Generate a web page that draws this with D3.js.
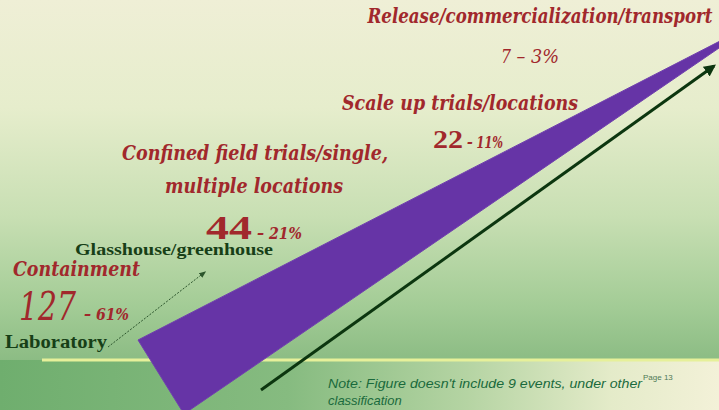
<!DOCTYPE html>
<html><head><meta charset="utf-8">
<script src="https://cdn.jsdelivr.net/npm/d3@7"></script>
<style>html,body{margin:0;padding:0;overflow:hidden;background:#eeeed4}</style>
</head><body>
<svg id="c" width="719" height="410"></svg>
<script>
// ---- data ----
const stages = ["Containment", "Confined field trials/single, multiple locations", "Scale up trials/locations", "Release/commercialization/transport"];
const counts = [127, 44, 22, 7];
const percents = [61, 21, 11, 3];
const subStages = ["Laboratory", "Glasshouse/greenhouse"];
const note = ["Note: Figure doesn't include 9 events, under other", "classification"];
const pageLabel = "Page 13";

const W = 719, H = 410;
const svg = d3.select("#c");
const defs = svg.append("defs");

// background gradients
const g1 = defs.append("linearGradient").attr("id","bgTop").attr("x1",0).attr("y1",0).attr("x2",0).attr("y2",1);
[[0,"#efefd6"],[0.3,"#e6edcc"],[0.6,"#c8dfb3"],[0.85,"#a3cc96"],[1,"#8cbc84"]].forEach(s=>g1.append("stop").attr("offset",s[0]).attr("stop-color",s[1]));
const g2 = defs.append("linearGradient").attr("id","bgBot").attr("x1",0).attr("y1",0).attr("x2",1).attr("y2",0);
[[0,"#6fae6e"],[0.4,"#86bb80"],[0.65,"#b5d4a3"],[0.85,"#e4ebc9"],[1,"#f3f1d8"]].forEach(s=>g2.append("stop").attr("offset",s[0]).attr("stop-color",s[1]));

const lineY = 360;
svg.append("rect").attr("x",0).attr("y",0).attr("width",W).attr("height",lineY).attr("fill","url(#bgTop)");
svg.append("rect").attr("x",0).attr("y",lineY).attr("width",W).attr("height",H-lineY).attr("fill","url(#bgBot)");
svg.append("line").attr("x1",42).attr("x2",W).attr("y1",lineY).attr("y2",lineY).attr("stroke","#e6f09a").attr("stroke-width",3);

// scales along the wedge
const xS = d3.scaleLinear().domain([0,1]).range([138,722]);
const yTop = d3.scaleLinear().domain([0,1]).range([340,40]);
const line = d3.line();

// wedge (purple)
const wedge = [[xS(0), yTop(0)], [xS(1), yTop(1)], [722, 46], [184, 414]];
svg.append("path").attr("d", line(wedge) + "Z").attr("fill","#6634a6").attr("stroke","#7040ae").attr("stroke-width",1);

// markers
defs.append("marker").attr("id","ah").attr("viewBox","0 0 10 10").attr("refX",8).attr("refY",5)
  .attr("markerWidth",4).attr("markerHeight",4).attr("orient","auto")
  .append("path").attr("d","M0,0L10,5L0,10Z").attr("fill","#0c360f");
defs.append("marker").attr("id","ah2").attr("viewBox","0 0 10 10").attr("refX",8).attr("refY",5)
  .attr("markerWidth",7).attr("markerHeight",7).attr("orient","auto")
  .append("path").attr("d","M0,1L10,5L0,9Z").attr("fill","#2c552c");

// black arrow
svg.append("path").attr("d", line([[261,390],[714,66]])).attr("stroke","#0c360f").attr("stroke-width",3)
  .attr("fill","none").attr("marker-end","url(#ah)");
// dotted arrow
svg.append("path").attr("d", line([[108,347],[205,272]])).attr("stroke","#2c552c").attr("stroke-width",1)
  .attr("stroke-dasharray","2,1.5").attr("fill","none").attr("marker-end","url(#ah2)");

const red = "#a1282c", green = "#173f17";
const serif = "'DejaVu Serif Condensed','DejaVu Serif',serif";
const serif2 = "'Liberation Serif','Times New Roman',serif";
function txt(x,y,s,opt){
  const fill = opt.fill||red;
  const e = svg.append("text").attr("x",x).attr("y",y).text(s)
    .attr("font-family", opt.font||serif).attr("font-size",opt.size)
    .attr("font-weight",opt.weight||"bold").attr("font-style",opt.style||"italic")
    .attr("fill",fill).attr("text-anchor",opt.anchor||"start");
  if(opt.len) e.attr("textLength",opt.len).attr("lengthAdjust","spacingAndGlyphs");
  return e;
}
function countPct(x,y,i,bigSize,bigStyle,bigWeight,smallSize,anchor,lens,smallWeight,gap){
  const e = svg.append("text").attr("x",x).attr("y",y).attr("font-family",serif).attr("fill",red).attr("text-anchor",anchor||"start");
  const a = e.append("tspan").text(counts[i]).attr("font-size",bigSize).attr("font-style",bigStyle).attr("font-weight",bigWeight)
    .attr("font-family", bigStyle==="normal" ? serif2 : serif);
  const b = e.append("tspan").text(" – " + percents[i] + "%").attr("font-size",smallSize).attr("font-style","italic").attr("font-weight",smallWeight||"bold");
  if(gap) b.attr("dx",gap);
  if(lens){ a.attr("textLength",lens[0]).attr("lengthAdjust","spacingAndGlyphs"); b.attr("textLength",lens[1]).attr("lengthAdjust","spacingAndGlyphs"); }
}

// Release
txt(540,23,stages[3],{size:21,anchor:"middle",len:345});
countPct(530,63,3,"18px","italic","normal","18px","middle",[10,48],"normal");
// Scale up
txt(460,110,stages[2],{size:21,anchor:"middle",len:236});
countPct(433,148,2,"25px","normal","bold","16px","start",[30,40]);
// Confined
txt(255,160,"Confined field trials/single,",{size:21,anchor:"middle",len:266});
txt(254,193,"multiple locations",{size:21,anchor:"middle",len:178});
countPct(206,239,1,"34px","normal","bold","17px","start",[46,50]);
// Containment
txt(174,255,subStages[1],{size:17,anchor:"middle",style:"normal",font:serif2,fill:green,len:198});
txt(13,276,stages[0],{size:21,len:127});
countPct(19,320,0,"40px","italic","normal","17px","start",[57,50],"bold",3);
txt(5,348,subStages[0],{size:18,style:"normal",font:serif2,fill:green,len:102});

// note
const sans = "'Liberation Sans',Arial,sans-serif";
txt(328,388,note[0],{size:13,font:sans,weight:"normal",fill:"#1a6a3c",len:314});
txt(328,405,note[1],{size:13,font:sans,weight:"normal",fill:"#1a6a3c"});
txt(643,380,pageLabel,{size:8,font:sans,weight:"normal",style:"normal",fill:"#4f7a57"});
</script>
</body></html>
